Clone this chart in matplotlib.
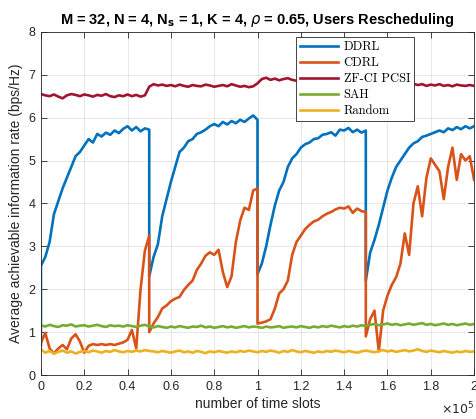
import numpy as np
import matplotlib
matplotlib.use('Agg')
import matplotlib.pyplot as plt
from matplotlib.ticker import FuncFormatter

# average rate per method, sampled every 2000 slots (x in units of 1e5 slots)
step = 0.02

# DDRL / CDRL restart every 0.5e5 slots, so they are kept as four episodes
ddrl_start = 0.7
ddrl_ep = [
    [2.55, 2.75, 3.10, 3.75, 4.05, 4.35, 4.60, 4.85, 5.10, 5.20, 5.35, 5.50, 5.42,
     5.62, 5.56, 5.65, 5.60, 5.70, 5.64, 5.74, 5.80, 5.70, 5.78, 5.68, 5.75, 5.72],
    [2.30, 2.75, 3.05, 3.70, 4.10, 4.50, 4.85, 5.20, 5.30, 5.45, 5.50, 5.62, 5.66,
     5.72, 5.80, 5.85, 5.80, 5.90, 5.84, 5.92, 5.87, 5.95, 5.90, 5.98, 6.05, 5.95],
    [2.35, 2.60, 3.00, 3.50, 3.95, 4.30, 4.50, 4.85, 5.05, 5.15, 5.30, 5.38, 5.42,
     5.50, 5.52, 5.60, 5.62, 5.66, 5.58, 5.72, 5.70, 5.76, 5.66, 5.72, 5.65, 5.70],
    [2.20, 2.85, 3.15, 3.50, 3.90, 4.30, 4.60, 4.85, 5.00, 5.15, 5.30, 5.40, 5.45,
     5.55, 5.58, 5.62, 5.66, 5.70, 5.66, 5.75, 5.71, 5.78, 5.73, 5.80, 5.75, 5.80],
]
cdrl_ep = [
    [0.75, 0.98, 0.62, 0.50, 0.62, 0.70, 0.60, 0.85, 0.95, 0.78, 0.52, 0.68, 0.72,
     0.70, 0.72, 0.70, 0.72, 0.70, 0.73, 0.76, 0.82, 1.05, 0.62, 2.00, 2.90, 3.25],
    [1.00, 1.20, 1.35, 1.55, 1.62, 1.72, 1.78, 1.82, 1.98, 2.10, 2.20, 2.45, 2.60,
     2.78, 2.86, 2.80, 2.92, 2.40, 2.05, 2.30, 3.10, 3.60, 3.90, 3.85, 4.30, 4.35],
    [1.20, 1.22, 1.25, 1.30, 1.55, 1.90, 2.00, 2.20, 2.80, 3.10, 3.25, 3.40, 3.50,
     3.58, 3.62, 3.70, 3.76, 3.80, 3.86, 3.90, 3.88, 3.93, 3.78, 3.88, 3.82, 3.80],
    [0.90, 1.30, 1.50, 0.55, 1.50, 1.85, 2.10, 2.28, 2.60, 3.30, 2.80, 4.00, 4.40,
     3.70, 4.60, 5.05, 4.90, 4.75, 4.10, 4.85, 5.30, 4.55, 5.15, 5.00, 5.10, 4.55],
]

zf_pcsi = [6.55, 6.52, 6.50, 6.54, 6.49, 6.45, 6.52, 6.55, 6.53, 6.50, 6.54, 6.52, 6.49,
           6.53, 6.51, 6.55, 6.50, 6.48, 6.52, 6.50, 6.54, 6.50, 6.53, 6.49, 6.52, 6.72,
           6.78, 6.75, 6.77, 6.74, 6.76, 6.73, 6.77, 6.74, 6.72, 6.76, 6.74, 6.73, 6.77,
           6.75, 6.72, 6.74, 6.76, 6.73, 6.78, 6.75, 6.72, 6.74, 6.71, 6.73, 6.80,
           6.90, 6.93, 6.88, 6.91, 6.87, 6.90, 6.92, 6.88, 6.86, 6.90, 6.87, 6.89, 6.85,
           6.88, 6.86, 6.90, 6.87, 6.85, 6.88, 6.84, 6.86, 6.83, 6.85, 6.82, 6.80,
           6.79, 6.81, 6.78, 6.80, 6.77, 6.79, 6.76, 6.80, 6.78, 6.75, 6.79, 6.76, 6.78,
           6.74, 6.77, 6.75, 6.78, 6.74, 6.76, 6.73, 6.77, 6.75, 6.74, 6.76, 6.74]

sah = [1.16, 1.13, 1.17, 1.14, 1.12, 1.16, 1.15, 1.18, 1.13, 1.15, 1.16, 1.13, 1.15,
       1.17, 1.14, 1.12, 1.16, 1.14, 1.15, 1.13, 1.16, 1.14, 1.12, 1.15, 1.17, 1.13,
       1.11, 1.14, 1.12, 1.10, 1.13, 1.11, 1.14, 1.12, 1.10, 1.13, 1.12, 1.15, 1.11,
       1.13, 1.10, 1.12, 1.14, 1.11, 1.13, 1.10, 1.12, 1.14, 1.11, 1.13, 1.12,
       1.10, 1.13, 1.11, 1.12, 1.14, 1.10, 1.12, 1.13, 1.11, 1.14, 1.12, 1.10, 1.13,
       1.11, 1.14, 1.12, 1.15, 1.13, 1.11, 1.14, 1.12, 1.15, 1.13, 1.16, 1.14,
       1.17, 1.19, 1.16, 1.18, 1.20, 1.17, 1.19, 1.16, 1.18, 1.20, 1.17, 1.19, 1.21,
       1.17, 1.19, 1.16, 1.18, 1.20, 1.17, 1.19, 1.16, 1.18, 1.20, 1.17, 1.19]

rand_sched = [0.60, 0.52, 0.56, 0.50, 0.54, 0.57, 0.52, 0.55, 0.50, 0.54, 0.56, 0.53, 0.57,
              0.55, 0.52, 0.56, 0.54, 0.58, 0.55, 0.53, 0.56, 0.54, 0.57, 0.55, 0.58, 0.56,
              0.55, 0.53, 0.56, 0.54, 0.52, 0.55, 0.57, 0.53, 0.55, 0.52, 0.56, 0.54, 0.51,
              0.55, 0.53, 0.56, 0.54, 0.52, 0.55, 0.53, 0.56, 0.54, 0.57, 0.55, 0.53,
              0.56, 0.54, 0.57, 0.55, 0.52, 0.56, 0.54, 0.58, 0.55, 0.53, 0.56, 0.54, 0.52,
              0.55, 0.53, 0.56, 0.54, 0.57, 0.55, 0.53, 0.56, 0.54, 0.52, 0.55, 0.57,
              0.55, 0.53, 0.56, 0.58, 0.55, 0.57, 0.54, 0.56, 0.58, 0.55, 0.57, 0.60, 0.56,
              0.54, 0.57, 0.55, 0.53, 0.56, 0.54, 0.52, 0.55, 0.53, 0.56, 0.54, 0.55]

labels = ['DDRL', 'CDRL', 'ZF-CI PCSI', 'SAH', 'Random']
colors = ['#0072BD', '#D95319', '#A2142F', '#77AC30', '#EDB120']


def episodes(eps, start=None):
    xs, ys = [], []
    if start is not None:
        xs.append(0.0)
        ys.append(start)
    for k, ep in enumerate(eps):
        xs.extend(k * 0.5 + step * np.arange(len(ep)))
        ys.extend(ep)
    return np.array(xs) * 1e5, np.array(ys)


t_full = step * np.arange(len(zf_pcsi)) * 1e5

plt.rcParams['font.family'] = ['Liberation Sans', 'DejaVu Sans']

fig = plt.figure(figsize=(4.76, 4.19), dpi=100)
ax = fig.add_axes([0.086, 0.105, 0.910, 0.819])

lw = 1.9
x, y = episodes(ddrl_ep, ddrl_start)
ax.plot(x, y, color=colors[0], lw=lw, label=labels[0])
x, y = episodes(cdrl_ep)
ax.plot(x, y, color=colors[1], lw=lw, label=labels[1])
ax.plot(t_full, zf_pcsi, color=colors[2], lw=lw, label=labels[2])
ax.plot(t_full, sah, color=colors[3], lw=lw, label=labels[3])
ax.plot(t_full, rand_sched, color=colors[4], lw=lw, label=labels[4])

ax.set_xlim(0, 2e5)
ax.set_ylim(0, 8)
ax.set_xticks(np.arange(0, 2.01e5, 2e4))
ax.set_yticks(range(0, 9))
ax.xaxis.set_major_formatter(FuncFormatter(lambda v, p: f'{v / 1e5:g}'))
ax.tick_params(direction='in', top=True, right=True, length=4, width=0.6,
               labelsize=9, colors='#262626', pad=4)
ax.grid(True, color='#262626', alpha=0.12, lw=0.6)
for s in ax.spines.values():
    s.set_linewidth(0.6)
    s.set_color('#262626')

ax.text(1.0, -0.122, r'$\times10^5$', transform=ax.transAxes, ha='right', va='bottom',
        fontsize=9, color='#262626')
ax.set_xlabel('number of time slots', fontsize=10, color='#262626', labelpad=3)
ax.set_ylabel('Average achievable information rate (bps/Hz)', fontsize=10,
              color='#262626', labelpad=4)
ax.set_title(r'M = 32, N = 4, N$_\mathbf{s}$ = 1, K = 4, $\rho$ = 0.65, Users Rescheduling',
             fontsize=10.5, fontweight='bold', pad=6)

leg = ax.legend(loc='upper left', bbox_to_anchor=(0.589, 0.985), borderaxespad=0,
                fancybox=False, edgecolor='#262626', framealpha=1,
                prop={'family': 'cmr10', 'size': 9}, handlelength=3.0,
                borderpad=0.35, labelspacing=0.3, handletextpad=0.45)
leg.get_frame().set_linewidth(0.6)

fig.savefig('out.png', dpi=100)
